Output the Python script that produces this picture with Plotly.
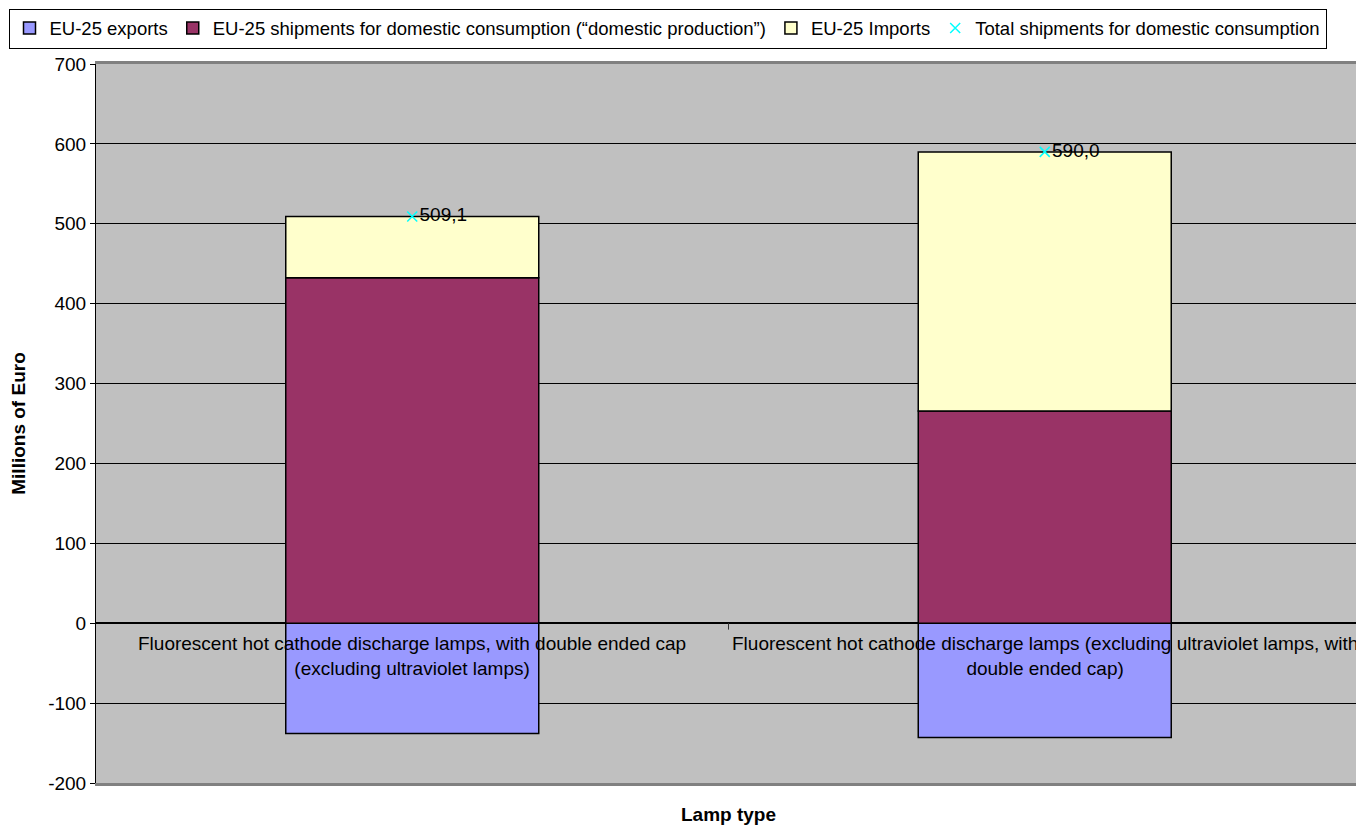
import plotly.graph_objects as go

categories = [
    "Fluorescent hot cathode discharge lamps, with double ended cap<br>(excluding ultraviolet lamps)",
    "Fluorescent hot cathode discharge lamps (excluding ultraviolet lamps, with<br>double ended cap)",
]
exports = [-138.0, -143.0]
domestic = [432.4, 265.7]
imports = [76.7, 324.3]
totals = [509.1, 590.0]
total_labels = ["509,1", "590,0"]
y_tick_values = [-200, -100, 0, 100, 200, 300, 400, 500, 600, 700]
y_tick_labels = ["-200", "-100", "0", "100", "200", "300", "400", "500", "600", "700"]

FONT = "Liberation Sans, Arial, sans-serif"
FS = 19
xs = [0, 1]

# the page body adds an 8px offset, so the figure is sized to end at the window edge
OFF = 8
W, H = 1364 - OFF, 830 - OFF
ML, MR, MT, MB = 96 - OFF, 3, 64 - OFF, 47
PW, PH = W - ML - MR, H - MT - MB

fig = go.Figure()
line = dict(color="black", width=1.5)
fig.add_trace(go.Bar(x=xs, y=exports, name="EU-25 exports",
                     marker=dict(color="#9999FF", line=line), width=0.4))
fig.add_trace(go.Bar(x=xs, y=domestic,
                     name="EU-25 shipments for domestic consumption (\u201cdomestic production\u201d)",
                     marker=dict(color="#993366", line=line), width=0.4))
fig.add_trace(go.Bar(x=xs, y=imports, name="EU-25 Imports",
                     marker=dict(color="#FFFFCC", line=line), width=0.4))
fig.add_trace(go.Scatter(x=xs, y=totals, mode="markers+text",
                         name="Total shipments for domestic consumption",
                         marker=dict(symbol="x-thin", size=10, color="#00FFFF",
                                     line=dict(color="#00FFFF", width=1.5)),
                         text=total_labels, textposition="middle right",
                         textfont=dict(family=FONT, size=FS, color="black")))

for i, c in enumerate(categories):
    fig.add_annotation(x=xs[i], y=0, xref="x", yref="y", text=c, showarrow=False,
                       yanchor="top", yshift=-8,
                       font=dict(family=FONT, size=FS, color="black"))

# tick mark on category axis between the categories
fig.add_shape(type="line", x0=0.5, x1=0.5, y0=0, y1=-8, xref="x", yref="y",
              line=dict(color="#333333", width=1))

fig.update_layout(
    width=W, height=H,
    margin=dict(l=ML, r=MR, t=MT, b=MB, autoexpand=False),
    paper_bgcolor="white", plot_bgcolor="#C0C0C0",
    barmode="relative", bargap=0.6,
    font=dict(family=FONT, color="black"),
    showlegend=True,
    legend=dict(orientation="h", xref="paper", yref="paper",
                x=(0.5 - ML) / PW, y=(H - MB - 0.5) / PH,
                xanchor="left", yanchor="top",
                bgcolor="white", bordercolor="black", borderwidth=1,
                font=dict(family=FONT, size=18.5, color="black"),
                itemwidth=30, tracegroupgap=0),
    xaxis=dict(range=[-0.5, 1.5], showticklabels=False, showgrid=False,
               zeroline=False, showline=True, linecolor="#808080", linewidth=3,
               mirror=True, ticks="", automargin=False,
               title=dict(text="<b>Lamp type</b>", font=dict(family=FONT, size=FS),
                          standoff=23)),
    yaxis=dict(range=[-200, 700], tickmode="array", tickvals=y_tick_values,
               ticktext=y_tick_labels, automargin=False,
               showgrid=True, gridcolor="black", gridwidth=1,
               zeroline=True, zerolinecolor="black", zerolinewidth=1.5,
               showline=True, linecolor="black", linewidth=1,
               ticks="outside", ticklen=5, tickcolor="black",
               tickfont=dict(family=FONT, size=FS, color="black"),
               title=dict(text="<b>Millions of Euro</b>", font=dict(family=FONT, size=FS),
                          standoff=18)),
)
fig.write_html("out.html")
